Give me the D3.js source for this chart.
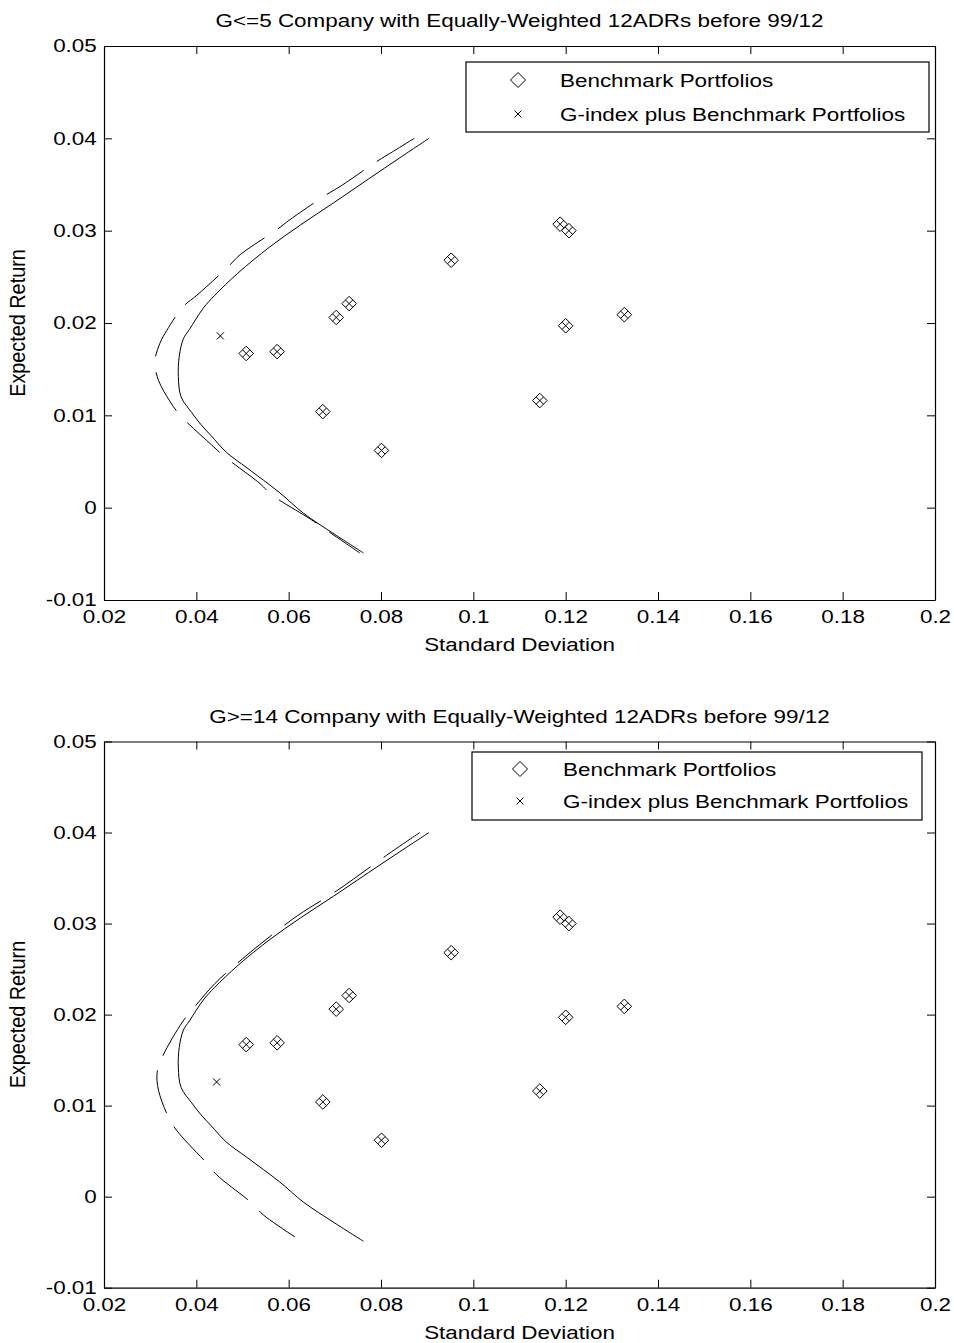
<!DOCTYPE html>
<html>
<head>
<meta charset="utf-8">
<script src="https://cdn.jsdelivr.net/npm/d3@7"></script>
<style>
  body { margin: 0; background: #fff; }
  svg { display: block; font-family: "Liberation Sans", Arial, sans-serif; }
</style>
</head>
<body>
<script>
// axis ticks
const xTicks = [0.02, 0.04, 0.06, 0.08, 0.1, 0.12, 0.14, 0.16, 0.18, 0.2];
const yTicks = [-0.01, 0, 0.01, 0.02, 0.03, 0.04, 0.05];

// benchmark portfolios (std, expected return) - same in both panels
const benchStd = [0.0508, 0.0575, 0.0703, 0.0731, 0.0674, 0.0801, 0.0952, 0.1188, 0.1207, 0.1200, 0.1144, 0.1327];
const benchRet = [0.0167, 0.0169, 0.0206, 0.0221, 0.0104, 0.0062, 0.0268, 0.0307, 0.0300, 0.0197, 0.0116, 0.0209];

// benchmark frontier (solid line)
const frontStd = [0.0904, 0.0841, 0.0773, 0.0697, 0.0625, 0.0558, 0.0490, 0.0440, 0.0415, 0.0385, 0.0372, 0.0363, 0.0361, 0.0367, 0.0390, 0.0410, 0.0432, 0.0465, 0.0510, 0.0581, 0.0632, 0.0700, 0.0762];
const frontRet = [0.0400, 0.0379, 0.0356, 0.0330, 0.0306, 0.0282, 0.0254, 0.0230, 0.0216, 0.0193, 0.0183, 0.0164, 0.0142, 0.0120, 0.0103, 0.0090, 0.0078, 0.0060, 0.0043, 0.0016, -0.0006, -0.0029, -0.0049];

// G<=5 : G-index plus benchmark frontier (dashed) and G-index point
const g5Std = [0.0872, 0.0827, 0.0791, 0.0715, 0.0682, 0.0603, 0.0574, 0.0495, 0.0469, 0.0401, 0.0372, 0.0336, 0.0321, 0.0310, 0.0318, 0.0343, 0.0365, 0.0433, 0.0462, 0.0538, 0.0563, 0.0646, 0.0675, 0.0754];
const g5Ret = [0.0400, 0.0386, 0.0375, 0.0349, 0.0339, 0.0312, 0.0301, 0.0274, 0.0261, 0.0230, 0.0218, 0.0192, 0.0178, 0.0158, 0.0138, 0.0115, 0.0100, 0.0068, 0.0055, 0.0026, 0.0014, -0.0012, -0.0022, -0.0049];
const g5Point = [0.0452, 0.0186];

// G>=14
const g14Std = [0.0884, 0.0812, 0.0704, 0.0620, 0.0560, 0.0490, 0.0440, 0.0397, 0.0370, 0.0325, 0.0315, 0.0318, 0.0339, 0.0357, 0.0422, 0.0444, 0.0520, 0.0545, 0.0625];
const g14Ret = [0.0400, 0.0375, 0.0336, 0.0309, 0.0286, 0.0257, 0.0234, 0.0209, 0.0192, 0.0152, 0.0136, 0.0117, 0.0088, 0.0073, 0.0037, 0.0024, -0.0007, -0.0020, -0.0048];
const g14Point = [0.0444, 0.0126];

const legendLabels = ["Benchmark Portfolios", "G-index plus Benchmark Portfolios"];

const width = 954, height = 1343;
const FS = 18.7;   // font size
const SX = 1.2;    // the figure text is stretched horizontally

const panels = [
  { title: "G<=5 Company with Equally-Weighted 12ADRs before 99/12",
    top: 46, bottom: 600, dashStd: g5Std, dashRet: g5Ret, point: g5Point,
    legend: { x: 466, y: 62, w: 463, h: 70, mx: 518, tx: 560, rows: [80, 114] } },
  { title: "G>=14 Company with Equally-Weighted 12ADRs before 99/12",
    top: 741.5, bottom: 1287.7, dashStd: g14Std, dashRet: g14Ret, point: g14Point,
    legend: { x: 472, y: 752, w: 450, h: 68, mx: 520, tx: 563, rows: [769, 801] } }
];

const svg = d3.select("body").append("svg")
    .attr("width", width)
    .attr("height", height)
    .attr("font-size", FS);

const fmt = d => String(+d.toFixed(2));
const diamond = r => `M0,${-r}L${r},0L0,${r}L${-r},0Z`;
const cross = a => `M${-a},${-a}L${a},${a}M${-a},${a}L${a},${-a}`;

function styleAxis(g) {
  g.attr("font-size", null).attr("font-family", null);
  g.select(".domain").attr("stroke-width", 1.2);
  g.selectAll(".tick line").attr("stroke-width", 1);
  g.selectAll("text").attr("transform", `scale(${SX},1)`).attr("fill", "#000");
}

function drawPanel(p) {
  const x = d3.scaleLinear([0.02, 0.2], [104, 935]);
  const y = d3.scaleLinear([-0.01, 0.05], [p.bottom, p.top]);
  const g = svg.append("g");

  g.append("g")
      .attr("transform", `translate(0,${p.bottom})`)
      .call(d3.axisBottom(x).tickValues(xTicks).tickFormat(fmt).tickSizeInner(-8).tickSizeOuter(0).tickPadding(10))
      .call(styleAxis);
  g.append("g")
      .attr("transform", `translate(0,${p.top})`)
      .call(d3.axisTop(x).tickValues(xTicks).tickFormat("").tickSizeInner(-8).tickSizeOuter(0))
      .call(styleAxis);
  g.append("g")
      .attr("transform", "translate(104,0)")
      .call(d3.axisLeft(y).tickValues(yTicks).tickFormat(fmt).tickSizeInner(-8).tickSizeOuter(0).tickPadding(6))
      .call(styleAxis);
  g.append("g")
      .attr("transform", "translate(935,0)")
      .call(d3.axisRight(y).tickValues(yTicks).tickFormat("").tickSizeInner(-8).tickSizeOuter(0))
      .call(styleAxis);

  const line = d3.line()
      .x(d => x(d[0]))
      .y(d => y(d[1]))
      .curve(d3.curveCatmullRom);

  g.append("path")
      .datum(d3.zip(frontStd, frontRet))
      .attr("fill", "none")
      .attr("stroke", "#000")
      .attr("stroke-width", 1)
      .attr("d", line);

  g.append("path")
      .datum(d3.zip(p.dashStd, p.dashRet))
      .attr("fill", "none")
      .attr("stroke", "#000")
      .attr("stroke-width", 1)
      .attr("stroke-dasharray", "44,16")
      .attr("d", line);

  const bench = d3.zip(benchStd, benchRet);

  g.append("g")
    .selectAll("path")
    .data(bench)
    .join("path")
      .attr("transform", d => `translate(${x(d[0])},${y(d[1])})`)
      .attr("d", diamond(7.3))
      .attr("fill", "none")
      .attr("stroke", "#000");

  // G-index plus benchmark portfolios: all benchmarks plus the G-index point
  g.append("g")
    .selectAll("path")
    .data(bench.concat([p.point]))
    .join("path")
      .attr("transform", d => `translate(${x(d[0])},${y(d[1])})`)
      .attr("d", cross(3.6))
      .attr("fill", "none")
      .attr("stroke", "#000");

  // legend
  const L = p.legend;
  const leg = g.append("g");
  leg.append("rect")
      .attr("x", L.x).attr("y", L.y)
      .attr("width", L.w).attr("height", L.h)
      .attr("fill", "#fff")
      .attr("stroke", "#000")
      .attr("stroke-width", 1.2);
  leg.append("path")
      .attr("transform", `translate(${L.mx},${L.rows[0]})`)
      .attr("d", diamond(7.5))
      .attr("fill", "none")
      .attr("stroke", "#000");
  leg.append("path")
      .attr("transform", `translate(${L.mx},${L.rows[1]})`)
      .attr("d", cross(3.5))
      .attr("fill", "none")
      .attr("stroke", "#000");
  leg.selectAll("text")
    .data(legendLabels)
    .join("text")
      .attr("transform", (d, i) => `translate(${L.tx},${L.rows[i] + 6.7}) scale(${SX},1)`)
      .text(d => d);

  // titles and axis labels
  const cx = (104 + 935) / 2;
  g.append("text")
      .attr("transform", `translate(${cx},${p.top - 19}) scale(${SX},1)`)
      .attr("text-anchor", "middle")
      .text(p.title);
  g.append("text")
      .attr("transform", `translate(${cx},${p.bottom + 51}) scale(${SX},1)`)
      .attr("text-anchor", "middle")
      .text("Standard Deviation");
  g.append("text")
      .attr("transform", `translate(25,${(p.top + p.bottom) / 2}) rotate(-90) scale(1.06,${SX})`)
      .attr("text-anchor", "middle")
      .text("Expected Return");
}

panels.forEach(drawPanel);
</script>
</body>
</html>
